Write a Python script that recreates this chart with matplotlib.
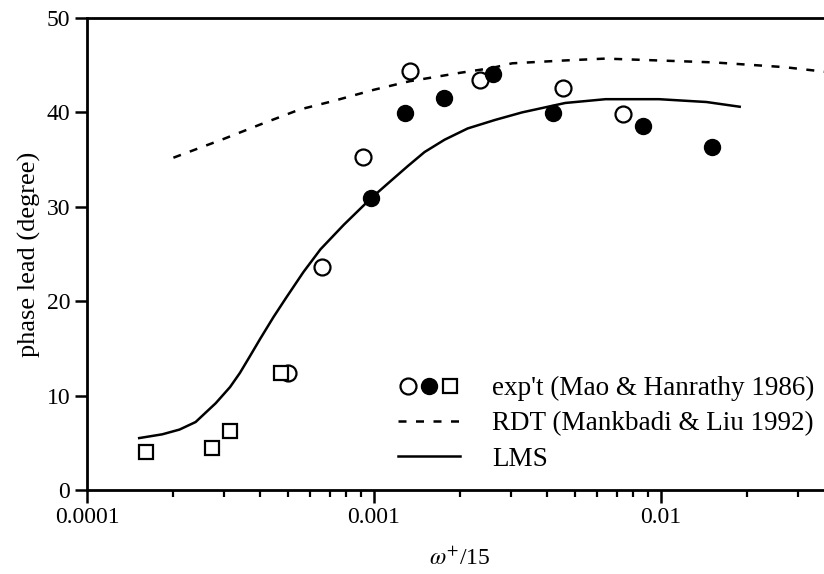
import matplotlib
matplotlib.use("Agg")
import matplotlib.pyplot as plt
from matplotlib.lines import Line2D
from matplotlib.legend_handler import HandlerTuple
import numpy as np

# experimental points (Mao & Hanrathy 1986)
open_x = [5.03e-4, 6.57e-4, 9.15e-4, 1.33e-3, 2.34e-3, 4.57e-3, 7.36e-3]
open_y = [12.4, 23.6, 35.3, 44.4, 43.4, 42.6, 39.8]
filled_x = [9.76e-4, 1.28e-3, 1.75e-3, 2.6e-3, 4.2e-3, 8.65e-3, 1.51e-2]
filled_y = [30.9, 39.9, 41.5, 44.1, 39.9, 38.6, 36.3]
square_x = [1.6e-4, 2.72e-4, 3.15e-4, 4.76e-4]
square_y = [4.0, 4.45, 6.25, 12.4]

# RDT (Mankbadi & Liu 1992)
rdt_x = [2.0e-4, 3.0e-4, 4.0e-4, 5.5e-4, 7.2e-4, 1.0e-3, 1.33e-3, 2.0e-3,
         2.57e-3, 3.03e-3, 4.6e-3, 6.4e-3, 9.84e-3, 1.52e-2, 2.68e-2, 4.0e-2]
rdt_y = [35.2, 37.2, 38.7, 40.3, 41.2, 42.4, 43.3, 44.2,
         44.7, 45.2, 45.5, 45.7, 45.5, 45.3, 44.8, 44.2]

# LMS
lms_x = [1.52e-4, 1.83e-4, 2.10e-4, 2.39e-4, 2.81e-4, 3.15e-4, 3.41e-4,
         3.70e-4, 4.01e-4, 4.46e-4, 4.95e-4, 5.68e-4, 6.51e-4, 7.85e-4,
         9.76e-4, 1.15e-3, 1.31e-3, 1.50e-3, 1.76e-3, 2.12e-3, 2.64e-3,
         3.28e-3, 4.64e-3, 6.41e-3, 9.84e-3, 1.44e-2, 1.88e-2]
lms_y = [5.5, 5.9, 6.4, 7.2, 9.2, 10.9, 12.4,
         14.2, 16.0, 18.3, 20.4, 23.1, 25.5, 28.1,
         30.9, 32.8, 34.3, 35.8, 37.1, 38.3, 39.2,
         40.0, 41.0, 41.4, 41.4, 41.1, 40.6]

xticks = [1e-4, 1e-3, 1e-2]
xticklabels = ["0.0001", "0.001", "0.01"]
yticks = [0, 10, 20, 30, 40, 50]

plt.rcParams["font.family"] = ["Liberation Serif", "DejaVu Serif"]
plt.rcParams["mathtext.fontset"] = "stix"

DASH = (0, (3.2, 3.8))

fig = plt.figure(figsize=(8.24, 5.74), dpi=100)
ax = fig.add_axes([87 / 824, 84 / 574, 1 - 87 / 824 + 0.01, 472 / 574])

ax.plot(rdt_x, rdt_y, color="black", lw=1.8, ls=DASH)
ax.plot(lms_x, lms_y, color="black", lw=1.8)
ax.plot(open_x, open_y, "o", ms=11.5, mfc="white", mec="black", mew=1.6)
ax.plot(filled_x, filled_y, "o", ms=11.5, mfc="black", mec="black")
ax.plot(square_x, square_y, "s", ms=10.5, mfc="white", mec="black", mew=1.6)

ax.set_xscale("log")
ax.set_xlim(1e-4, 0.0395)
ax.set_ylim(0, 50)
ax.set_xticks(xticks)
ax.set_xticklabels(xticklabels)
ax.set_yticks(yticks)
ax.xaxis.set_minor_locator(matplotlib.ticker.LogLocator(base=10, subs=np.arange(2, 10)))
ax.xaxis.set_minor_formatter(matplotlib.ticker.NullFormatter())
ax.tick_params(axis="both", which="major", direction="out", length=9, width=1.8,
               labelsize=17, pad=3)
ax.tick_params(axis="x", which="minor", direction="out", length=5, width=1.6)
for s in ["left", "bottom", "top"]:
    ax.spines[s].set_linewidth(2)
ax.spines["right"].set_visible(False)

ax.set_ylabel("phase lead (degree)", fontsize=19, labelpad=4)
ax.set_xlabel(r"$\omega^{+}$/15", fontsize=17, labelpad=14)

h_exp = (Line2D([], [], ls="", marker="o", ms=11.5, mfc="white", mec="black", mew=1.6),
         Line2D([], [], ls="", marker="o", ms=11.5, mfc="black", mec="black"),
         Line2D([], [], ls="", marker="s", ms=10.5, mfc="white", mec="black", mew=1.6))
h_rdt = Line2D([], [], color="black", lw=1.8, ls=DASH)
h_lms = Line2D([], [], color="black", lw=1.8)
ax.legend([h_exp, h_rdt, h_lms],
          ["exp't (Mao & Hanrathy 1986)", "RDT (Mankbadi & Liu 1992)", "LMS"],
          handler_map={tuple: HandlerTuple(ndivide=None, pad=0)},
          loc="center left", bbox_to_anchor=(0.4174, 0.140), frameon=False,
          fontsize=19.5, handlelength=2.3, handletextpad=1.18, labelspacing=0.38,
          borderpad=0, borderaxespad=0)

fig.savefig("out.png", dpi=100)
